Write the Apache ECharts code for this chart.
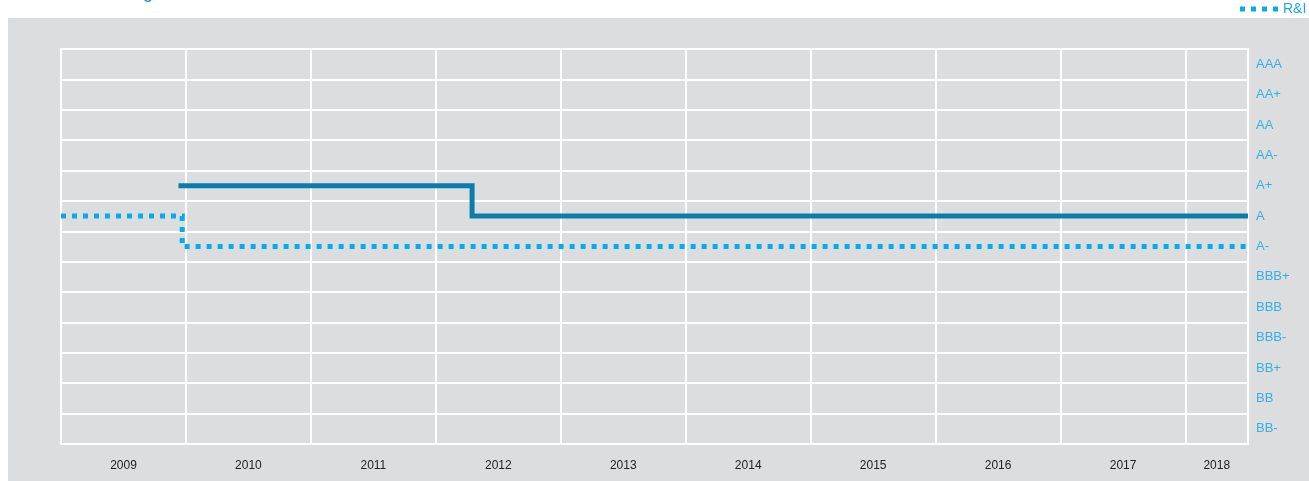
<!DOCTYPE html>
<html>
<head>
<meta charset="utf-8">
<script src="https://cdn.jsdelivr.net/npm/echarts@6/dist/echarts.min.js"></script>
<style>
html,body{margin:0;padding:0;background:#fff;}
#c{width:1309px;height:481px;}
</style>
</head>
<body>
<div id="c"></div>
<script>
// Rating scale, bottom to top
const ratings = ['BB-','BB','BB+','BBB-','BBB','BBB+','A-','A','A+','AA-','AA','AA+','AAA'];
// Year tick labels (labels sit in the middle of each year band; 2018 is a half band)
const years = ['2009','2010','2011','2012','2013','2014','2015','2016','2017','2018'];
// Solid series (step line): [time, rating]
const solidName = 'S&P';
const solidData = [[2009.94,'A+'],[2012.29,'A+'],[2012.29,'A'],[2018.5,'A']];
// Dotted series: R&I
const dottedName = 'R&I';
const dottedData = [[2009.0,'A'],[2009.97,'A'],[2009.97,'A-'],[2018.5,'A-']];

const chart = echarts.init(document.getElementById('c'), null, {renderer:'canvas'});
const gray = '#dcdddf';
const labelFor = function(v){
  const f = v - Math.floor(v);
  const y = Math.floor(v);
  if (Math.abs(f - 0.5) < 1e-6 && y < 2018) {
    const i = years.indexOf(String(y));
    return i >= 0 ? years[i] : '';
  }
  if (Math.abs(v - 2018.25) < 1e-6) return years[years.length - 1];
  return '';
};
chart.setOption({
  backgroundColor: '#ffffff',
  animation: false,
  graphic: [{
    type: 'rect', left: 8, top: 18, z: -10,
    shape: {width: 1301, height: 463},
    style: {fill: gray}
  }],
  title: {
    text: 'Credit rating',
    left: 50, top: -21,
    textStyle: {color: '#1a8fc0', fontSize: 18, fontWeight: 'normal', fontFamily: 'Liberation Sans'}
  },
  legend: {
    orient: 'vertical',
    left: 1240, top: -22, padding: 0,
    itemWidth: 38, itemHeight: 5, itemGap: 10,
    data: [
      {name: solidName, icon: 'rect'},
      {name: dottedName, icon: 'path://M0,0h5v5h-5z M11,0h5v5h-5z M22,0h5v5h-5z M33,0h5v5h-5z'}
    ],
    textStyle: {color: '#1aa8e0', fontSize: 14, fontFamily: 'Liberation Sans'}
  },
  grid: {
    left: 61, right: 61, top: 49, bottom: 37,
    show: true, backgroundColor: gray, borderColor: '#ffffff', borderWidth: 2
  },
  xAxis: [{
    type: 'value', min: 2009, max: 2018.5, interval: 1,
    axisLine: {show: false}, axisTick: {show: false}, axisLabel: {show: false},
    splitLine: {show: true, lineStyle: {color: '#ffffff', width: 2}}
  }, {
    type: 'value', min: 2009, max: 2018.5, interval: 0.25, position: 'bottom',
    axisLine: {show: false}, axisTick: {show: false}, splitLine: {show: false},
    axisLabel: {show: true, margin: 16, color: '#222', fontSize: 12, fontFamily: 'Liberation Sans',
      formatter: labelFor, showMinLabel: true, showMaxLabel: true, hideOverlap: false}
  }],
  yAxis: [{
    type: 'category', data: ratings, position: 'right', boundaryGap: true,
    axisLine: {show: false}, axisTick: {show: false},
    axisLabel: {margin: 8, color: '#35b0e6', fontSize: 13, fontFamily: 'Liberation Sans', interval: 0,
      padding: [3, 0, 0, 0]},
    splitLine: {show: true, interval: 0, lineStyle: {color: '#ffffff', width: 2}}
  }],
  series: [{
    name: solidName, type: 'line', data: solidData, xAxisIndex: 0, yAxisIndex: 0,
    showSymbol: false, symbol: 'none',
    lineStyle: {color: '#0a7eab', width: 5, cap: 'butt', join: 'miter'},
    itemStyle: {color: '#0a7eab'}
  }, {
    name: dottedName, type: 'line', data: dottedData, xAxisIndex: 0, yAxisIndex: 0,
    showSymbol: false, symbol: 'none',
    lineStyle: {color: '#00aeef', width: 5, type: [5, 6], cap: 'butt', join: 'miter'},
    itemStyle: {color: '#00aeef'}
  }]
});
</script>
</body>
</html>
